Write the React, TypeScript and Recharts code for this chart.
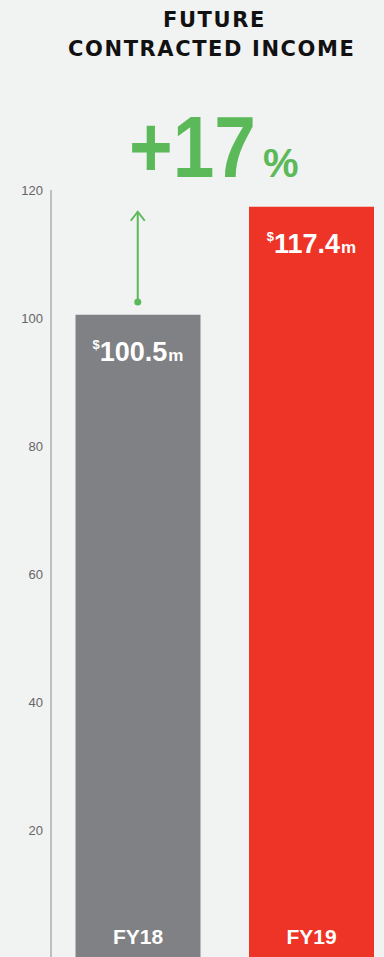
import React from "react";
import {
  BarChart,
  Bar,
  XAxis,
  YAxis,
  Cell,
  LabelList,
  ReferenceLine,
  ReferenceDot,
} from "recharts";

const categories = ["FY18", "FY19"];
const values = [100.5, 117.4];
const valueLabels = ["100.5", "117.4"];
const barColors = ["#808184", "#ee3427"];
const yTicks = [20, 40, 60, 80, 100, 120];
const titleLines = ["FUTURE", "CONTRACTED INCOME"];
const growthText = "+17";
const growthUnit = "%";
const arrowFrom = 102.5;
const arrowTo = 116.6;

const data = categories.map((name, i) => ({
  name,
  value: values[i],
  label: valueLabels[i],
}));

const GREEN = "#5cb95a";
const FONT = "'Liberation Sans', Arial, sans-serif";
const TITLE_FONT = "'DejaVu Sans', sans-serif";

const ValueLabel = (props: any) => {
  const { x, y, width, index } = props;
  const cx = x + width / 2;
  const base = y + 46;
  return (
    <text
      x={cx}
      y={base}
      textAnchor="middle"
      fill="#ffffff"
      fontFamily={FONT}
      fontWeight={700}
    >
      <tspan fontSize={13} dy={-12}>$</tspan>
      <tspan fontSize={27} dy={12}>{data[index].label}</tspan>
      <tspan fontSize={17} dx={1}>m</tspan>
    </text>
  );
};

const CatLabel = (props: any) => {
  const { x, y, width, height, index } = props;
  return (
    <text
      x={x + width / 2}
      y={y + height - 14}
      textAnchor="middle"
      fill="#ffffff"
      fontFamily={FONT}
      fontWeight={700}
      fontSize={21}
    >
      {data[index].name}
    </text>
  );
};

const ArrowShape = (props: any) => {
  const { x1, y1, x2, y2 } = props;
  const x = (x1 + x2) / 2;
  const top = Math.min(y1, y2);
  const bottom = Math.max(y1, y2);
  return (
    <g>
      <line x1={x} y1={bottom} x2={x} y2={top} stroke={GREEN} strokeWidth={2} />
      <polyline
        points={`${x - 7},${top + 9} ${x},${top} ${x + 7},${top + 9}`}
        fill="none"
        stroke={GREEN}
        strokeWidth={2}
      />
    </g>
  );
};

export default function App() {
  return (
    <div
      style={{
        position: "absolute",
        left: 0,
        top: 0,
        width: 384,
        height: 957,
        overflow: "hidden",
        background: "#f1f2f2",
      }}
    >
      <BarChart
        width={400}
        height={958}
        data={data}
        margin={{ top: 190, right: 2, left: 0, bottom: 0 }}
        barCategoryGap={24.5}
      >
        <XAxis dataKey="name" hide />
        <YAxis
          width={51}
          domain={[0, 120]}
          ticks={yTicks}
          tickLine={false}
          axisLine={{ stroke: "#8c8c8c", strokeWidth: 1 }}
          tick={{ fill: "#666666", fontSize: 13, fontFamily: FONT }}
        />
        <Bar dataKey="value" isAnimationActive={false}>
          {data.map((d, i) => (
            <Cell key={d.name} fill={barColors[i]} />
          ))}
          <LabelList dataKey="value" content={ValueLabel} />
          <LabelList dataKey="name" content={CatLabel} />
        </Bar>
        <ReferenceLine
          segment={[
            { x: categories[0], y: arrowFrom },
            { x: categories[0], y: arrowTo },
          ]}
          ifOverflow="visible"
          shape={ArrowShape}
        />
        <ReferenceDot
          x={categories[0]}
          y={arrowFrom}
          r={3.5}
          fill={GREEN}
          stroke="none"
          ifOverflow="visible"
        />
      </BarChart>
      <svg
        width={384}
        height={205}
        style={{ position: "absolute", left: 0, top: 0, pointerEvents: "none" }}
      >
        <text
          x={163}
          y={27}
          fontFamily={TITLE_FONT}
          fontWeight={700}
          fontSize={21}
          fill="#111111"
          letterSpacing={1.6}
        >
          {titleLines[0]}
        </text>
        <text
          x={68}
          y={56}
          fontFamily={TITLE_FONT}
          fontWeight={700}
          fontSize={21}
          fill="#111111"
          letterSpacing={1.6}
        >
          {titleLines[1]}
        </text>
        <text
          transform="translate(129,177) scale(0.85,1)"
          x={0}
          y={0}
          fontFamily={FONT}
          fontWeight={700}
          fontSize={88}
          fill={GREEN}
        >
          {growthText}
        </text>
        <text
          x={263}
          y={177}
          fontFamily={FONT}
          fontWeight={700}
          fontSize={40}
          fill={GREEN}
          letterSpacing={-3}
        >
          {growthUnit}
        </text>
      </svg>
    </div>
  );
}
